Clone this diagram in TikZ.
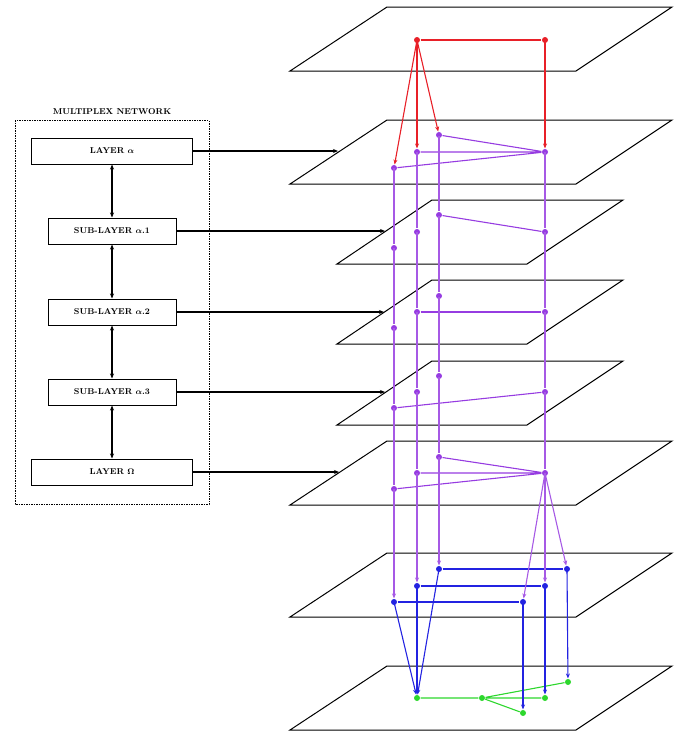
\documentclass[tikz,border=0pt]{standalone}
\usetikzlibrary{arrows.meta,calc}

\definecolor{redc}{RGB}{232,32,40}
\definecolor{purp}{RGB}{150,60,225}
\definecolor{bluec}{RGB}{35,35,225}
\definecolor{greenc}{RGB}{45,215,45}

% link between two layers: dotted under the upper plane, solid below it
\newcommand{\ilink}[5][]{%
  \path let \p1=(#3), \p2=(#4), \p3=(#5bl) in
    coordinate (cut) at ($(#3)!{(\y3-\y1)/(\y2-\y1)}!(#4)$);
  \draw[#2,densely dotted] (#3) -- (cut);
  \draw[#2,#1] (cut) -- (#4);}

\begin{document}
\begin{tikzpicture}[x=1pt, y=-1pt, line width=1.1pt,
                    >={Stealth[length=5pt,width=4pt]},
                    plane/.style={draw=black, line width=1pt},
                    dot/.style={circle, fill, inner sep=0pt, minimum size=6pt},
                    layer box/.style={draw, line width=1pt, minimum height=26pt,
                                      font=\fontsize{8.5}{10}\selectfont\bfseries\boldmath}]
  \useasboundingbox (0,0) rectangle (686,734);

  % planes
  \foreach \n/\y in {1/7, 2/120, 6/441, 7/553, 8/666}
    \draw[plane] (387,\y) -- ++(285,0) -- ++(-96,64) coordinate (P\n br)
                 -- ++(-286,0) coordinate (P\n bl) -- cycle;
  \foreach \n/\y in {3/200, 4/280, 5/361}
    \draw[plane] (432,\y) -- ++(191,0) -- ++(-96,64) coordinate (P\n br)
                 -- ++(-190,0) coordinate (P\n bl) -- cycle;

  % layer alpha (top)
  \node[dot, redc] (r1) at (417,40) {};
  \node[dot, redc] (r2) at (545,40) {};
  \draw[redc] (r1) -- (r2);

  % layer alpha
  \node[dot, purp] (a1) at (394,168) {};
  \node[dot, purp] (a2) at (417,152) {};
  \node[dot, purp] (a3) at (439,135) {};
  \node[dot, purp] (a4) at (545,152) {};
  \draw[purp] (a3) -- (a4) (a2) -- (a4) (a1) -- (a4);

  % sub-layers
  \node[dot, purp] (b1) at (394,248) {};
  \node[dot, purp] (b2) at (417,232) {};
  \node[dot, purp] (b3) at (439,215) {};
  \node[dot, purp] (b4) at (545,232) {};
  \draw[purp] (b3) -- (b4);

  \node[dot, purp] (c1) at (394,328) {};
  \node[dot, purp] (c2) at (417,312) {};
  \node[dot, purp] (c3) at (439,296) {};
  \node[dot, purp] (c4) at (545,312) {};
  \draw[purp] (c2) -- (c4);

  \node[dot, purp] (d1) at (394,408) {};
  \node[dot, purp] (d2) at (417,392) {};
  \node[dot, purp] (d3) at (439,376) {};
  \node[dot, purp] (d4) at (545,392) {};
  \draw[purp] (d1) -- (d4);

  % layer omega
  \node[dot, purp] (e1) at (394,489) {};
  \node[dot, purp] (e2) at (417,473) {};
  \node[dot, purp] (e3) at (439,457) {};
  \node[dot, purp] (e4) at (545,473) {};
  \draw[purp] (e3) -- (e4) (e2) -- (e4) (e1) -- (e4);

  % lower layers
  \node[dot, bluec] (f1) at (394,602) {};
  \node[dot, bluec] (f2) at (417,586) {};
  \node[dot, bluec] (f3) at (439,569) {};
  \node[dot, bluec] (f4) at (523,602) {};
  \node[dot, bluec] (f5) at (545,586) {};
  \node[dot, bluec] (f6) at (567,569) {};
  \draw[bluec] (f3) -- (f6) (f2) -- (f5) (f1) -- (f4);

  \node[dot, greenc] (g1) at (417,698) {};
  \node[dot, greenc] (g2) at (482,698) {};
  \node[dot, greenc] (g3) at (545,698) {};
  \node[dot, greenc] (g4) at (523,713) {};
  \node[dot, greenc] (g5) at (568,682) {};
  \draw[greenc] (g1) -- (g2) -- (g3) (g2) -- (g4) (g2) -- (g5);

  % inter-layer links
  \ilink[->]{redc}{r1}{a1}{P1}
  \ilink[->]{redc}{r1}{a2}{P1}
  \ilink[->]{redc}{r1}{a3}{P1}
  \ilink[->]{redc}{r2}{a4}{P1}
  \foreach \i in {1,2,3,4} {
    \ilink{purp!85}{a\i}{b\i}{P2}
    \ilink{purp!85}{b\i}{c\i}{P3}
    \ilink{purp!85}{c\i}{d\i}{P4}
    \ilink{purp!85}{d\i}{e\i}{P5}
  }
  \ilink[->]{purp!85}{e1}{f1}{P6}
  \ilink[->]{purp!85}{e2}{f2}{P6}
  \ilink[->]{purp!85}{e3}{f3}{P6}
  \ilink[->]{purp!85}{e4}{f4}{P6}
  \ilink[->]{purp!85}{e4}{f5}{P6}
  \ilink[->]{purp!85}{e4}{f6}{P6}
  \ilink[->]{bluec}{f1}{g1}{P7}
  \ilink[->]{bluec}{f2}{g1}{P7}
  \ilink[->]{bluec}{f3}{g1}{P7}
  \ilink[->]{bluec}{f4}{g4}{P7}
  \ilink[->]{bluec}{f5}{g3}{P7}
  \ilink[->]{bluec}{f6}{g5}{P7}

  % multiplex network panel
  \node[font=\fontsize{8.5}{10}\selectfont\bfseries] (title) at (112,112) {MULTIPLEX NETWORK};
  \draw[line width=1pt, dash pattern=on 1.5pt off 1pt] (15,120) rectangle (209,504);

  \node[layer box, minimum width=161pt] (la) at (112,151) {LAYER $\alpha$};
  \node[layer box, minimum width=128pt] (s1) at (112,231) {SUB-LAYER $\alpha$.1};
  \node[layer box, minimum width=128pt] (s2) at (112,312) {SUB-LAYER $\alpha$.2};
  \node[layer box, minimum width=128pt] (s3) at (112,392) {SUB-LAYER $\alpha$.3};
  \node[layer box, minimum width=161pt] (lo) at (112,472) {LAYER $\Omega$};

  \draw[<->] (la) -- (s1);
  \draw[<->] (s1) -- (s2);
  \draw[<->] (s2) -- (s3);
  \draw[<->] (s3) -- (lo);

  \coordinate (t2) at (338,151);
  \coordinate (t3) at (385,231);
  \coordinate (t4) at (384,312);
  \coordinate (t5) at (385,392);
  \coordinate (t6) at (339,472);
  \draw[->] (la) -- (t2);
  \draw[->] (s1) -- (t3);
  \draw[->] (s2) -- (t4);
  \draw[->] (s3) -- (t5);
  \draw[->] (lo) -- (t6);
\end{tikzpicture}
\end{document}
